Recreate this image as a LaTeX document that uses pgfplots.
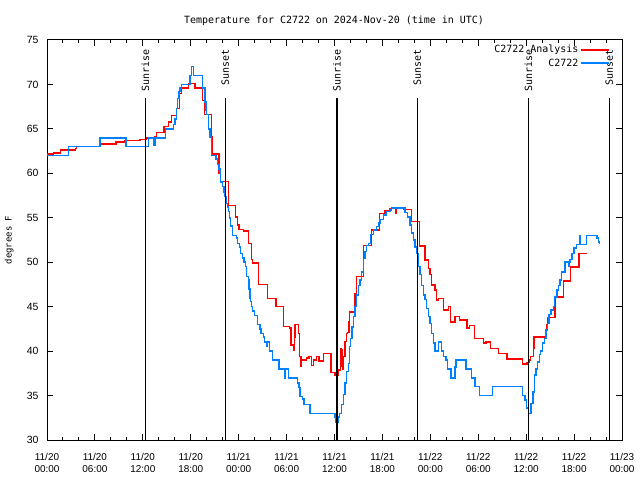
\documentclass[border=0pt]{standalone}
\usepackage{fontspec}
\setmainfont{Liberation Sans}
\newfontfamily\mono{DejaVu Sans Mono}
\usepackage{pgfplots}
\pgfplotsset{compat=1.18}
\definecolor{obsblue}{RGB}{0,128,255}
\definecolor{anred}{RGB}{255,0,0}
\begin{document}
\begin{tikzpicture}
\useasboundingbox (0,0) rectangle (640bp,480bp);
\begin{axis}[
  at={(47bp,40bp)}, anchor=south west,
  scale only axis, width=575bp, height=400bp,
  xmin=0, xmax=72, ymin=30, ymax=75,
  xtick={0,6,...,72},
  xticklabels={{11/20\\00:00},{11/20\\06:00},{11/20\\12:00},{11/20\\18:00},{11/21\\00:00},{11/21\\06:00},{11/21\\12:00},{11/21\\18:00},{11/22\\00:00},{11/22\\06:00},{11/22\\12:00},{11/22\\18:00},{11/23\\00:00}},
  xticklabel style={align=center, font=\fontsize{10}{12}\selectfont, yshift=-10bp},
  minor x tick num=2,
  ytick={30,35,...,75},
  yticklabel style={font=\fontsize{10.5}{12}\selectfont, xshift=-5bp},
  /pgf/number format/assume math mode=true,
  major tick length=6bp, minor tick length=3bp,
  tick style={black, line width=1bp},
  axis line style={black, line width=1bp},
  ylabel={degrees F},
  every axis y label/.style={at={(rel axis cs:0,0.5)}, xshift=-37.7bp, rotate=90, anchor=center, font=\mono\fontsize{9}{11}\selectfont},
  legend style={at={(rel axis cs:1,1)}, anchor=north east, xshift=-12bp, yshift=-3bp, draw=none, fill=none, font=\mono\fontsize{10}{12}\selectfont, row sep=0.5bp, inner sep=0bp},
  legend cell align=right,
  legend plot pos=right,
  legend image code/.code={\draw[#1, line width=1.5bp] (0bp,0bp) -- (28bp,0bp);},
]
% C2722 Analysis
\addplot[color=anred, mark=none, line width=1.5bp, const plot mark left] coordinates {
(0,62.2) (0.79,62.3) (1.71,62.6) (3.59,62.8) (3.72,63.0) (6.64,63.3) (8.64,63.5) (9.77,63.7) (11.65,63.8) (12.48,64.0) (13.52,64.1) (13.74,64.6) (14.65,65.25) (15.19,65.8) (15.61,66.5) (16.24,67.3) (16.57,69.0) (16.87,69.6) (17.70,70.1) (18.53,69.6) (19.50,68.2) (19.70,66.6) (20.62,64.1) (20.70,62.2) (21.54,60.0) (21.75,59.1) (22.70,56.4) (23.63,55.1) (23.83,54.2) (24.04,53.7) (24.58,53.5) (25.21,52.1) (25.63,50.3) (25.76,49.9) (26.46,47.5) (27.59,45.9) (28.68,45.0) (29.59,42.75) (30.34,42.6) (30.55,40.7) (30.84,40.1) (30.97,41.6) (31.06,43.0) (31.47,42.0) (31.59,39.4) (31.81,38.3) (31.89,39.0) (32.52,39.2) (32.81,39.4) (33.15,38.4) (33.35,39.0) (33.77,39.4) (34.06,38.9) (34.6,39.75) (35.56,37.6) (36.06,37.3) (36.44,37.9) (36.75,40.3) (36.82,38.3) (36.9,40.1) (37.0,38.0) (37.05,39.4) (37.32,41.06) (37.53,42.0) (37.65,42.1) (37.82,43.3) (37.9,44.4) (38.57,46.4) (38.78,48.4) (39.61,51.9) (40.66,53.6) (41.61,55.5) (42.33,55.8) (42.95,56.06) (43.67,55.5) (43.75,56.06) (44.62,55.94) (45.67,54.6) (46.62,51.8) (47.33,50.25) (47.75,49.3) (47.96,48.6) (48.17,47.44) (48.59,46.9) (48.80,45.75) (49.0,45.9) (49.63,44.6) (50.25,45.0) (50.55,43.3) (51.09,43.9) (51.63,43.5) (52.56,42.6) (52.88,42.9) (53.51,41.4) (54.64,40.9) (54.97,41.0) (55.56,40.3) (56.51,39.75) (57.57,39.1) (59.57,38.56) (60.1,38.7) (60.39,39.0) (60.57,39.4) (60.90,40.3) (60.98,41.56) (62.49,42.0) (62.55,43.0) (62.65,43.8) (63.61,46.06) (64.65,47.9) (65.58,49.44) (66.62,51.0) (67.58,51.0)
};
\addlegendentry{C2722 Analysis}
% C2722 observations
\addplot[color=obsblue, mark=none, line width=1.5bp, const plot mark left] coordinates {
(0,62.0) (2.67,63.0) (6.64,64.0) (9.89,63.0) (12.68,64.0) (13.40,63.2) (13.61,64.0) (14.86,65.0) (15.82,65.5) (16.03,66.1) (16.24,67.3) (16.37,68.4) (16.53,69.2) (16.65,69.6) (16.87,70.0) (17.91,71.0) (18.12,72.0) (18.32,71.0) (19.50,69.6) (19.78,68.0) (19.91,67.1) (20.0,66.6) (20.20,65.0) (20.41,64.1) (20.62,62.0) (21.16,61.6) (21.33,61.0) (21.54,60.5) (21.66,60.0) (21.75,59.0) (22.0,58.5) (22.16,57.9) (22.29,57.4) (22.41,56.6) (22.58,56.2) (22.70,55.7) (22.83,55.0) (23.0,54.1) (23.20,53.0) (23.75,52.7) (23.88,52.1) (24.08,51.7) (24.26,51.0) (24.51,50.5) (24.67,50.0) (24.88,49.5) (25.01,48.4) (25.21,48.0) (25.29,47.0) (25.42,46.0) (25.51,45.6) (25.63,45.0) (25.76,44.5) (25.96,44.0) (26.33,43.0) (26.67,42.5) (26.80,42.0) (27.09,41.6) (27.21,41.0) (27.51,40.5) (27.59,41.0) (27.84,40.0) (28.26,39.0) (29.05,38.0) (29.71,37.0) (29.86,38.0) (30.22,37.0) (31.39,36.4) (31.56,35.9) (31.68,34.9) (31.97,34.6) (32.18,34.0) (32.85,33.0) (32.95,34.0) (33.0,33.0) (36.06,32.6) (36.20,32.0) (36.48,32.6) (36.6,33.0) (36.90,34.0) (37.10,35.1) (37.32,36.4) (37.53,37.7) (37.73,38.6) (37.85,40.5) (38.03,41.4) (38.16,42.7) (38.36,43.9) (38.57,45.0) (38.78,46.3) (38.98,47.4) (39.19,48.0) (39.41,48.9) (39.61,50.4) (39.82,51.2) (40.03,51.9) (40.23,52.1) (40.53,53.1) (40.86,53.6) (41.28,54.0) (41.49,54.4) (41.70,54.8) (42.11,55.3) (42.54,55.7) (42.95,55.9) (43.16,56.1) (44.83,55.6) (45.12,55.1) (45.46,54.2) (45.67,53.3) (45.87,52.5) (46.08,51.7) (46.29,51.0) (46.50,49.5) (46.71,48.6) (46.92,47.4) (47.12,46.3) (47.33,45.8) (47.55,44.8) (47.75,43.9) (47.96,43.1) (48.17,42.0) (48.37,40.9) (48.59,40.0) (49.0,41.0) (49.42,40.0) (49.63,39.4) (49.93,39.0) (50.13,38.0) (50.59,37.0) (51.09,38.2) (51.22,39.0) (52.47,38.0) (53.18,37.0) (53.59,36.0) (54.13,35.0) (55.81,36.0) (59.52,35.0) (59.86,34.5) (60.07,33.6) (60.27,33.0) (60.60,34.1) (60.85,35.4) (61.05,37.3) (61.23,38.0) (61.44,38.8) (61.65,39.6) (61.82,40.0) (62.02,40.9) (62.27,41.4) (62.49,42.4) (62.70,43.1) (62.86,44.1) (63.11,44.6) (63.40,45.0) (63.53,46.1) (63.83,46.9) (64.03,47.4) (64.24,48.0) (64.45,48.9) (64.86,50.0) (65.28,49.5) (65.37,50.0) (65.49,50.3) (65.71,51.0) (66.0,51.6) (66.33,52.0) (66.74,53.0) (66.83,52.0) (67.58,53.0) (68.62,53.0) (68.84,52.7) (69.04,52.3) (69.16,52.0)
};
\addlegendentry{C2722}
% sunrise / sunset markers
\addplot[black, mark=none, line width=1.3bp, forget plot] coordinates {(12.31,30) (12.31,68.5)};
\addplot[black, mark=none, line width=1.3bp, forget plot] coordinates {(22.31,30) (22.31,68.5)};
\addplot[black, mark=none, line width=1.3bp, forget plot] coordinates {(36.31,30) (36.31,68.5)};
\addplot[black, mark=none, line width=1.3bp, forget plot] coordinates {(46.37,30) (46.37,68.5)};
\addplot[black, mark=none, line width=1.3bp, forget plot] coordinates {(60.27,30) (60.27,68.5)};
\addplot[black, mark=none, line width=1.3bp, forget plot] coordinates {(70.41,30) (70.41,68.5)};
\node[rotate=90, anchor=east, inner sep=0pt, font=\mono\fontsize{10}{12}\selectfont] at (axis cs:12.31,73.9) {Sunrise};
\node[rotate=90, anchor=east, inner sep=0pt, font=\mono\fontsize{10}{12}\selectfont] at (axis cs:22.31,73.9) {Sunset};
\node[rotate=90, anchor=east, inner sep=0pt, font=\mono\fontsize{10}{12}\selectfont] at (axis cs:36.31,73.9) {Sunrise};
\node[rotate=90, anchor=east, inner sep=0pt, font=\mono\fontsize{10}{12}\selectfont] at (axis cs:46.37,73.9) {Sunset};
\node[rotate=90, anchor=east, inner sep=0pt, font=\mono\fontsize{10}{12}\selectfont] at (axis cs:60.27,73.9) {Sunrise};
\node[rotate=90, anchor=east, inner sep=0pt, font=\mono\fontsize{10}{12}\selectfont] at (axis cs:70.41,73.9) {Sunset};
\end{axis}
\node[anchor=base, font=\mono\fontsize{10}{12}\selectfont] at (334bp,456bp) {Temperature for C2722 on 2024-Nov-20 (time in UTC)};
\end{tikzpicture}
\end{document}
